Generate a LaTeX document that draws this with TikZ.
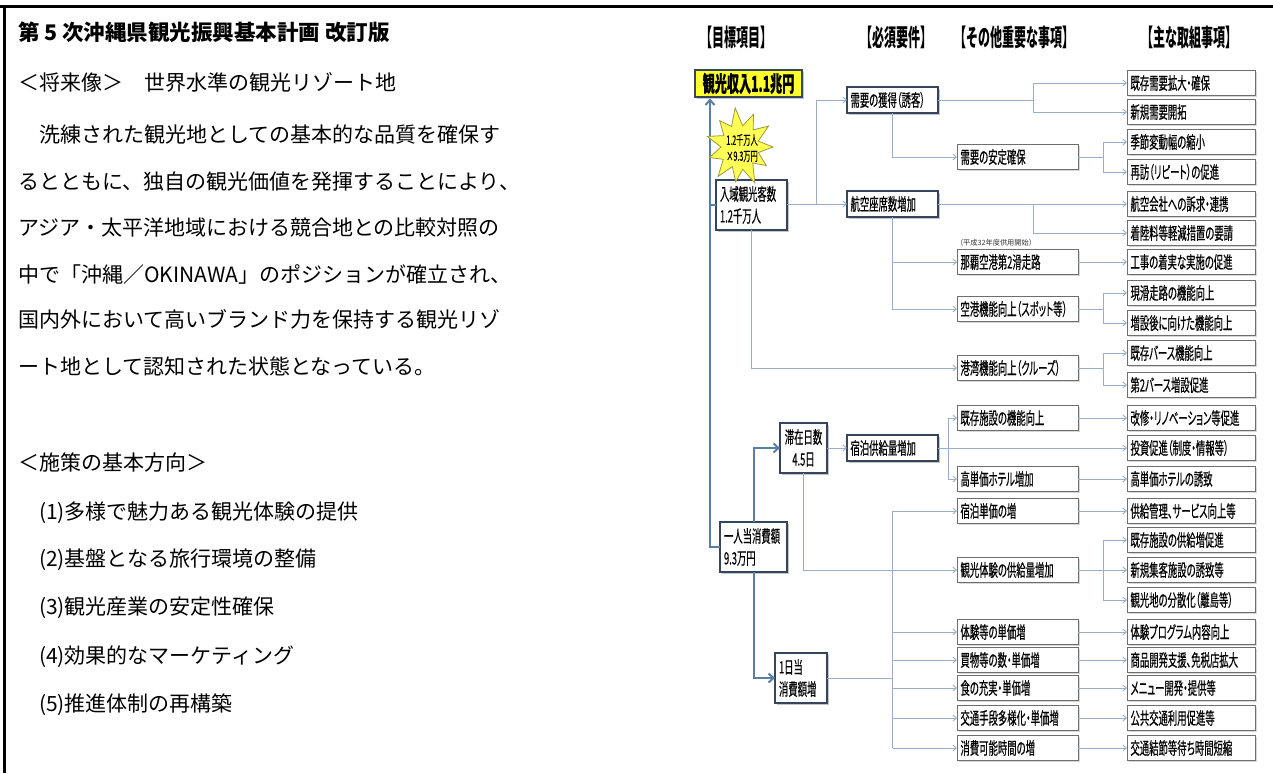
\documentclass[tikz,border=0pt]{standalone}
\usepackage{fontspec}
\setmainfont{Noto Sans CJK JP}
\newfontfamily\dg[FakeStretch=0.55,FakeBold=0.4,RawFeature=+palt]{Noto Sans CJK JP}
\newfontfamily\hd[FakeStretch=0.5]{Noto Sans CJK JP}
\usetikzlibrary{arrows.meta,shadows,calc}
\definecolor{lc}{HTML}{9AAFC5}
\definecolor{bc}{HTML}{5A7FA7}
\definecolor{nv}{HTML}{34455C}
\definecolor{yel}{HTML}{FFFF2E}
\definecolor{sy}{HTML}{FFFF55}
\definecolor{sb}{HTML}{9C9A3A}
\definecolor{gb}{HTML}{6E6E6E}
\begin{document}
\begin{tikzpicture}[x=1pt,y=-1pt,
  every node/.style={inner sep=0pt, outer sep=0pt},
  body/.style={anchor=west, font=\fontsize{21}{24}\selectfont},
  hdr/.style={font=\hd\bfseries\fontsize{24}{26}\selectfont},
  tbox/.style={draw=gb, line width=0.8pt, fill=white,
    drop shadow={shadow xshift=1.5pt, shadow yshift=-1.5pt, opacity=0.3},
    font=\dg\fontsize{17}{18}\selectfont, align=left,
    inner xsep=3.5pt, inner ysep=0pt, minimum height=25pt},
  cfour/.style={tbox, text width=121pt},
  cthree/.style={tbox, text width=114pt},
  ctwo/.style={draw=nv, line width=1.3pt, fill=white,
    drop shadow={shadow xshift=2pt, shadow yshift=-2pt, opacity=0.45},
    font=\dg\fontsize{17}{18}\selectfont, align=left,
    inner xsep=3.5pt, inner ysep=0pt, minimum height=26pt, text width=84pt},
  gbox/.style={draw=nv, line width=1.3pt, fill=white,
    drop shadow={shadow xshift=2pt, shadow yshift=-2pt, opacity=0.45},
    font=\dg\fontsize{17}{22}\selectfont, align=left,
    inner xsep=4pt, inner ysep=0pt, minimum height=50pt},
  conn/.style={draw=lc, line width=0.9pt, -{Straight Barb[length=3.5pt,width=6pt]}},
  cl/.style={draw=lc, line width=0.9pt},
  bconn/.style={draw=bc, line width=2pt, -{Straight Barb[length=5pt,width=9pt]}},
  bl/.style={draw=bc, line width=2pt}
]
\fill[white] (0,0) rectangle (1273,773);
\useasboundingbox (0,0) rectangle (1273,773);
% frame
\draw[line width=2.5pt] (0,6.5) -- (1273,6.5);
\draw[line width=3pt] (4,5.25) -- (4,773);

% left text
\node[anchor=west, font=\bfseries\fontsize{21.5}{24}\selectfont] (t0) at (18,32) {第 5 次沖縄県観光振興基本計画 改訂版};
\node[body] (t1) at (18,82) {＜将来像＞　世界水準の観光リゾート地};
\node[body] (t2) at (18,135) {　洗練された観光地としての基本的な品質を確保す};
\node[body] (t3) at (18,182) {るとともに、独自の観光価値を発揮することにより、};
\node[body] (t4) at (18,228) {アジア・太平洋地域における競合地との比較対照の};
\node[body] (t5) at (18,274) {中で「沖縄／OKINAWA」のポジションが確立され、};
\node[body] (t6) at (18,319) {国内外において高いブランド力を保持する観光リゾ};
\node[body] (t7) at (18,366) {ート地として認知された状態となっている。};
\node[body] (t8) at (18,463) {＜施策の基本方向＞};
\node[body] (t9) at (18,513) {　(1)多様で魅力ある観光体験の提供};
\node[body] (t10) at (18,560) {　(2)基盤となる旅行環境の整備};
\node[body] (t11) at (18,608) {　(3)観光産業の安定性確保};
\node[body] (t12) at (18,657) {　(4)効果的なマーケティング};
\node[body] (t13) at (18,705) {　(5)推進体制の再構築};

% headers
\node[hdr] (h1) at (736.5,37) {【目標項目】};
\node[hdr] (h2) at (896,37) {【必須要件】};
\node[hdr] (h3) at (1014,37) {【その他重要な事項】};
\node[hdr] (h4) at (1189,37) {【主な取組事項】};

% column 1
\node[gbox, fill=yel, font=\dg\bfseries\fontsize{22}{24}\selectfont, align=center, minimum width=107pt, minimum height=27pt, inner xsep=2pt] (g0) at (748.5,83.5) {観光収入1.1兆円};
\node[gbox, text width=63pt] (g1) at (751.5,205) {入域観光客数\\1.2千万人};
\node[gbox, text width=59pt] (g2) at (753.5,547) {一人当消費額\\9.3万円};
\node[gbox, text width=41pt, inner xsep=3pt, align=center] (g3) at (803.5,448) {滞在日数\\4.5日};
\node[gbox, text width=44pt] (g4) at (801,678) {1日当\\消費額増};

% column 2
\node[ctwo] (n1) at (892.5,100) {需要の獲得（誘客）};
\node[ctwo] (n2) at (892.5,204) {航空座席数増加};
\node[ctwo] (n3) at (892.5,448) {宿泊供給量増加};

% column 3
\node[cthree] (m1) at (1017.5,157) {需要の安定確保};
\node[cthree] (m2) at (1017.5,262) {那覇空港第2滑走路};
\node[cthree] (m3) at (1017.5,309) {空港機能向上（スポット等）};
\node[cthree] (m4) at (1017.5,368) {港湾機能向上（クルーズ）};
\node[cthree] (m5) at (1017.5,418) {既存施設の機能向上};
\node[cthree] (m6) at (1017.5,479) {高単価ホテル増加};
\node[cthree] (m7) at (1017.5,511) {宿泊単価の増};
\node[cthree] (m8) at (1017.5,570) {観光体験の供給量増加};
\node[cthree] (m9) at (1017.5,632) {体験等の単価増};
\node[cthree] (m10) at (1017.5,660) {買物等の数・単価増};
\node[cthree] (m11) at (1017.5,688) {食の充実・単価増};
\node[cthree] (m12) at (1017.5,718) {交通手段多様化・単価増};
\node[cthree] (m13) at (1017.5,748) {消費可能時間の増};
\node[anchor=west, font=\fontsize{7.2}{8}\selectfont, text=black!80] (ann) at (956,243) {（平成32年度供用開始）};

% column 4
\node[cfour] (r1) at (1191,83) {既存需要拡大・確保};
\node[cfour] (r2) at (1191,112) {新規需要開拓};
\node[cfour] (r3) at (1191,142) {季節変動幅の縮小};
\node[cfour] (r4) at (1191,172) {再訪（リピート）の促進};
\node[cfour] (r5) at (1191,204) {航空会社への訴求・連携};
\node[cfour] (r6) at (1191,233) {着陸料等軽減措置の要請};
\node[cfour] (r7) at (1191,262) {工事の着実な実施の促進};
\node[cfour] (r8) at (1191,293) {現滑走路の機能向上};
\node[cfour] (r9) at (1191,323) {増設後に向けた機能向上};
\node[cfour] (r10) at (1191,353) {既存バース機能向上};
\node[cfour] (r11) at (1191,385) {第2バース増設促進};
\node[cfour] (r12) at (1191,418) {改修・リノベーション等促進};
\node[cfour] (r13) at (1191,448) {投資促進（制度・情報等）};
\node[cfour] (r14) at (1191,479) {高単価ホテルの誘致};
\node[cfour] (r15) at (1191,511) {供給管理、サービス向上等};
\node[cfour] (r16) at (1191,540) {既存施設の供給増促進};
\node[cfour] (r17) at (1191,570) {新規集客施設の誘致等};
\node[cfour] (r18) at (1191,600) {観光地の分散化（離島等）};
\node[cfour] (r19) at (1191,632) {体験プログラム内容向上};
\node[cfour] (r20) at (1191,660) {商品開発支援、免税店拡大};
\node[cfour] (r21) at (1191,688) {メニュー開発・提供等};
\node[cfour] (r22) at (1191,718) {公共交通利用促進等};
\node[cfour] (r23) at (1191,748) {交通結節等待ち時間短縮};

% junction columns
\coordinate (xa) at (1033,0);
\coordinate (xb) at (1103,0);
\coordinate (xc) at (948,0);
\coordinate (xd) at (892.5,0);
\coordinate (xe) at (816,0);
\coordinate (bx) at (710,0);

% light connectors
\draw[conn] (g1.east |- n2.west) -- (n2.west);
\draw[conn] (n2.west -| xe) |- (n1.west);
\draw[conn] (g1.south) |- (m4.west);
\draw[cl] (n1.east) -- (n1.east -| xa);
\draw[conn] (n1.east -| xa) |- (r1.west);
\draw[conn] (n1.east -| xa) |- (r2.west);
\draw[conn] (n1.south) |- (m1.west);
\draw[cl] (m1.east) -- (m1.east -| xb);
\draw[conn] (m1.east -| xb) |- (r3.west);
\draw[conn] (m1.east -| xb) |- (r4.west);
\draw[cl] (n2.east) -- (n2.east -| xa);
\draw[conn] (n2.east -| xa) |- (r5.west);
\draw[conn] (n2.east -| xa) |- (r6.west);
\draw[conn] (n2.south) |- (m2.west);
\draw[conn] (n2.south) |- (m3.west);
\draw[conn] (m2.east) -- (r7.west);
\draw[cl] (m3.east) -- (m3.east -| xb);
\draw[conn] (m3.east -| xb) |- (r8.west);
\draw[conn] (m3.east -| xb) |- (r9.west);
\draw[cl] (m4.east) -- (m4.east -| xb);
\draw[conn] (m4.east -| xb) |- (r10.west);
\draw[conn] (m4.east -| xb) |- (r11.west);
\draw[conn] (g3.east) -- (n3.west);
\draw[conn] (n3.east) -- (r13.west);
\draw[conn] (n3.east -| xc) |- (m5.west);
\draw[conn] (n3.east -| xc) |- (m6.west);
\draw[conn] (m5.east) -- (r12.west);
\draw[conn] (m6.east) -- (r14.west);
\draw[conn] (m7.east) -- (r15.west);
\draw[conn] (g3.south) |- (m8.west);
\draw[cl] (m8.east) -- (m8.east -| xb);
\draw[conn] (m8.east -| xb) |- (r16.west);
\draw[conn] (m8.east -| xb) -- (r17.west);
\draw[conn] (m8.east -| xb) |- (r18.west);
\draw[cl] (g4.east) -- (g4.east -| xd);
\draw[cl] (xd |- m7.west) -- (xd |- m13.west);
\foreach \k in {7,9,10,11,12,13} {\draw[conn] (xd |- m\k.west) -- (m\k.west);}
\draw[conn] (m9.east) -- (r19.west);
\draw[conn] (m10.east) -- (r20.west);
\draw[conn] (m11.east) -- (r21.west);
\draw[conn] (m12.east) -- (r22.west);
\draw[conn] (m13.east) -- (r23.west);

% blue connectors
\draw[bl] (g1.west) -- (g1.west -| bx);
\draw[bconn] (g2.west) -- (g2.west -| bx) -- ($(bx |- g0.south)+(0,1.5)$);
\draw[bconn] (g2.north) |- (g3.west);
\draw[bconn] (g2.south) |- (g4.west);

% starburst
\begin{scope}[shift={(740,147)}, yscale=1.13]
\draw[fill=sy, draw=sb, line width=0.8pt]
 (0:33) -- (15:19) -- (32:31) -- (48:19) -- (65:35) -- (82:20) -- (98:31) -- (114:19)
 -- (130:34) -- (147:20) -- (163:32) -- (180:19) -- (196:34) -- (212:19) -- (229:31)
 -- (245:20) -- (262:35) -- (278:19) -- (295:32) -- (311:20) -- (327:34) -- (344:19) -- cycle;
\end{scope}
\node[font=\dg\fontsize{13}{16}\selectfont, align=center] (star) at (742,148) {1.2千万人\\×9.3万円};
\end{tikzpicture}
\end{document}
